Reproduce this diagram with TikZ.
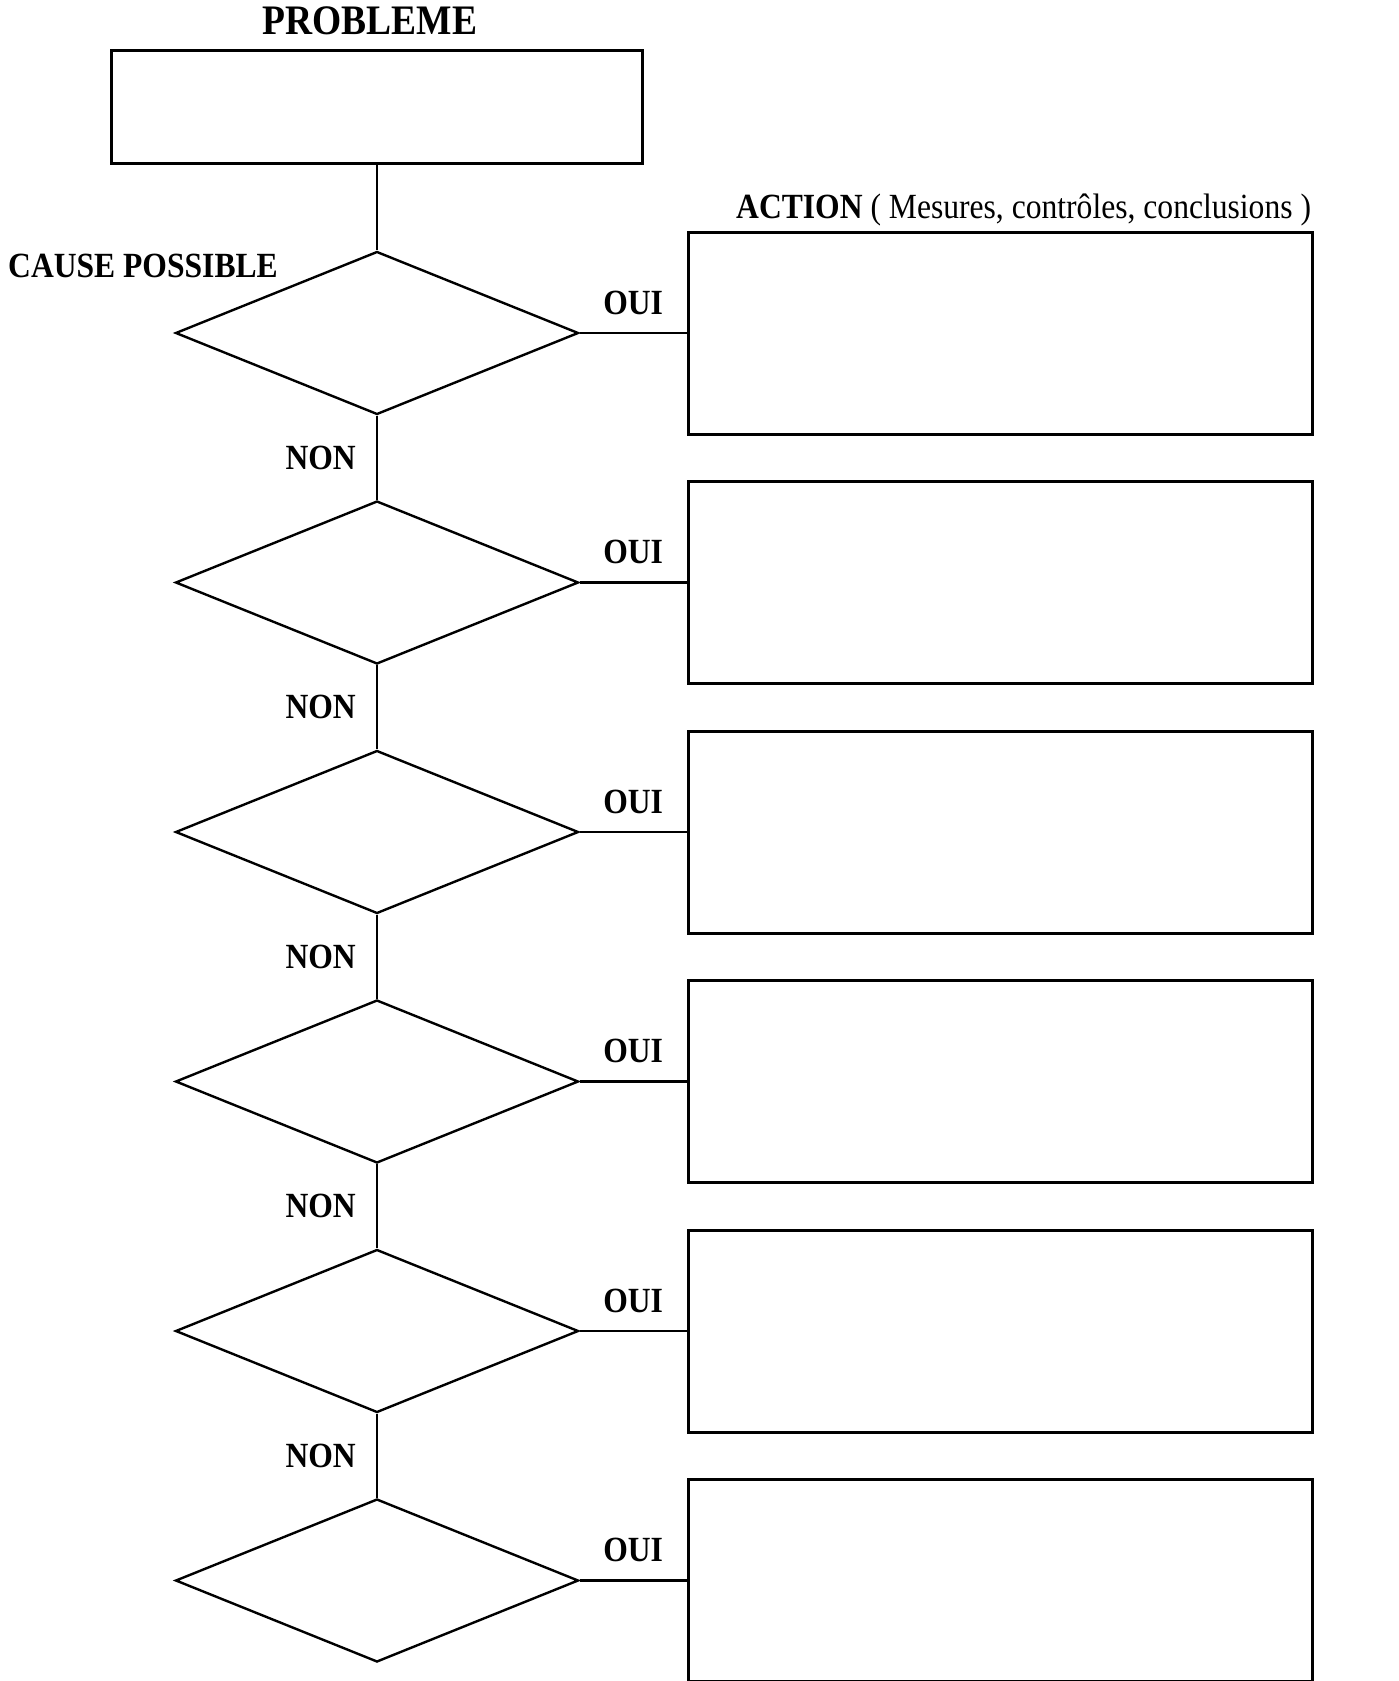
\documentclass[tikz,border=0pt]{standalone}
\usepackage{fontspec}
\setmainfont{Liberation Serif}
\usepackage{tikz}
\usetikzlibrary{shapes.geometric}
\usetikzlibrary{positioning}
\newcommand{\tallText}[1]{\scalebox{1}[1.12]{#1}}

\begin{document}
\begin{tikzpicture}[x=1pt,y=1pt,node distance=249.5pt]
	%defines
	\tikzstyle{problemBox} = [rectangle, minimum width=531pt, minimum height=113pt, draw=black, line width=3pt]
	\tikzstyle{cause} = [diamond, minimum width=403pt, minimum height=163pt, inner sep=0pt, draw=black, line width=2.4pt]
	\tikzstyle{action} = [rectangle, minimum width=624pt, minimum height=202pt, draw=black, line width=3pt]
	\tikzstyle{bigHeading} = [inner sep=0pt, font=\bfseries\fontsize{37.5}{44}\selectfont]
	\tikzstyle{heading} = [inner sep=0pt, font=\bfseries\fontsize{31.6}{38}\selectfont]
	\tikzstyle{answer} = [inner sep=0pt, font=\bfseries\fontsize{31.6}{38}\selectfont]
	\tikzstyle{connector} = [line width=2.4pt]
	\useasboundingbox (0,0) rectangle (1398,-1681);
	%chart
	\node (problem) [problemBox] at (377,-106.5) {};
	\node (problemTitle) [bigHeading, node distance=85.5pt, above of=problem, xshift=-7pt] {\tallText{PROBLEME}};
	\node (cause1) [cause, node distance=226.5pt, below of=problem] {};
	\node (cause2) [cause, below of=cause1] {};
	\node (cause3) [cause, below of=cause2] {};
	\node (cause4) [cause, below of=cause3] {};
	\node (cause5) [cause, below of=cause4] {};
	\node (cause6) [cause, below of=cause5] {};
	\node (action1) [action, node distance=623pt, right of=cause1] {};
	\node (action2) [action, node distance=623pt, right of=cause2] {};
	\node (action3) [action, node distance=623pt, right of=cause3] {};
	\node (action4) [action, node distance=623pt, right of=cause4] {};
	\node (action5) [action, node distance=623pt, right of=cause5] {};
	\node (action6) [action, node distance=623pt, right of=cause6] {};
	\node (causeTitle) [heading, anchor=base west] at (8,-277) {\tallText{CAUSE POSSIBLE}};
	\node (actionTitle) [heading, anchor=base west] at (736,-218) {\tallText{ACTION {\mdseries ( Mesures, contrôles, conclusions )}}};
	\draw [connector] (problem) -- (cause1);
	\draw [connector] (cause1) -- node[answer, left=20pt] {\tallText{NON}} (cause2);
	\draw [connector] (cause2) -- node[answer, left=20pt] {\tallText{NON}} (cause3);
	\draw [connector] (cause3) -- node[answer, left=20pt] {\tallText{NON}} (cause4);
	\draw [connector] (cause4) -- node[answer, left=20pt] {\tallText{NON}} (cause5);
	\draw [connector] (cause5) -- node[answer, left=20pt] {\tallText{NON}} (cause6);
	\draw [connector] (cause1) -- node[answer, above=17pt] {\tallText{OUI}} (action1);
	\draw [connector] (cause2) -- node[answer, above=17pt] {\tallText{OUI}} (action2);
	\draw [connector] (cause3) -- node[answer, above=17pt] {\tallText{OUI}} (action3);
	\draw [connector] (cause4) -- node[answer, above=17pt] {\tallText{OUI}} (action4);
	\draw [connector] (cause5) -- node[answer, above=17pt] {\tallText{OUI}} (action5);
	\draw [connector] (cause6) -- node[answer, above=17pt] {\tallText{OUI}} (action6);
\end{tikzpicture}
\end{document}
